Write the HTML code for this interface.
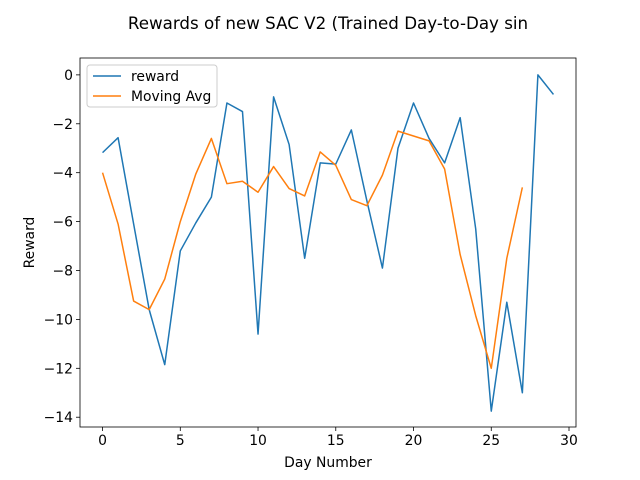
<!DOCTYPE html>
<html><head><meta charset="utf-8"><style>body{margin:0;background:#fff}svg{display:block;font-family:"DejaVu Sans","Liberation Sans",sans-serif}</style></head>
<body>
<svg id="chart" width="640" height="480">
<rect width="640" height="480" fill="#fff"/>
<text x="328" y="29" font-size="16.7" text-anchor="middle">Rewards of new SAC V2 (Trained Day-to-Day sin</text>
<g id="plot"></g>
</svg>
<script>
const days = [0,1,2,3,4,5,6,7,8,9,10,11,12,13,14,15,16,17,18,19,20,21,22,23,24,25,26,27,28,29];
const reward = [-3.18,-2.57,-6.1,-9.6,-11.85,-7.2,-6.05,-5.0,-1.15,-1.5,-10.6,-0.9,-2.85,-7.5,-3.6,-3.65,-2.25,-5.15,-7.9,-3.0,-1.15,-2.6,-3.6,-1.75,-6.3,-13.75,-9.3,-13.0,0,-0.8];
const movingAvg = [-4.0,-6.1,-9.25,-9.6,-8.35,-6.0,-4.05,-2.6,-4.45,-4.35,-4.8,-3.75,-4.65,-4.95,-3.15,-3.7,-5.1,-5.35,-4.1,-2.3,-2.5,-2.7,-3.85,-7.35,-9.85,-12.0,-7.5,-4.6];
const xTicks = [0,5,10,15,20,25,30];
const yTicks = [0,-2,-4,-6,-8,-10,-12,-14];

const L=80,R=576,T=58,B=427;
const xmin=-1.45,xmax=30.45,ymin=-14.4,ymax=0.69;
const sx=v=>L+(v-xmin)/(xmax-xmin)*(R-L);
const sy=v=>B-(v-ymin)/(ymax-ymin)*(B-T);
const NS='http://www.w3.org/2000/svg';
const g=document.getElementById('plot');
function mk(tag,attrs){const e=document.createElementNS(NS,tag);for(const k in attrs)e.setAttribute(k,attrs[k]);g.appendChild(e);return e;}

xTicks.forEach(v=>{
  const t=mk('line',{x1:sx(v),x2:sx(v),y1:B,y2:B+4,stroke:'#000','stroke-width':0.8});
  
  
  const l=mk('text',{x:sx(v),y:B+18,'font-size':13.9,'text-anchor':'middle'});
  l.textContent=v;
  
  
});
yTicks.forEach(v=>{
  const t=mk('line',{x1:L-4,x2:L,y1:sy(v),y2:sy(v),stroke:'#000','stroke-width':0.8});
  
  
  const l=mk('text',{x:L-7,y:sy(v)+5,'font-size':13.9,'text-anchor':'end'});
  l.textContent=v===0?'0':'\u2212'+Math.abs(v);
  
  
});

function line(xs,ys,color,name){
  const p=mk('polyline',{points:ys.map((y,i)=>sx(xs[i])+','+sy(y)).join(' '),fill:'none',stroke:color,'stroke-width':1.5,'stroke-linejoin':'round'});
  
  
}
line(days,reward,'#1f77b4','reward-line');
line(days.slice(0,movingAvg.length),movingAvg,'#ff7f0e','moving-avg-line');

const frame=mk('rect',{x:L,y:T,width:R-L,height:B-T,fill:'none',stroke:'#000','stroke-width':0.8});



const xt=mk('text',{x:(L+R)/2,y:467,'font-size':13.9,'text-anchor':'middle'});
xt.textContent='Day Number';


const yt=mk('text',{x:34,y:(T+B)/2,'font-size':13.9,'text-anchor':'middle',transform:'rotate(-90 34 '+((T+B)/2)+')'});
yt.textContent='Reward';



const lg=mk('rect',{x:87,y:65,width:130,height:42,rx:3,fill:'#fff','fill-opacity':0.8,stroke:'#ccc'});


[['reward','#1f77b4',76],['Moving Avg','#ff7f0e',96]].forEach(([n,c,y])=>{
  const s=mk('line',{x1:93,x2:121,y1:y,y2:y,stroke:c,'stroke-width':1.5});
  
  
  const t=mk('text',{x:131,y:y+5,'font-size':13.9});
  t.textContent=n;
  
  
});
</script>
</body></html>
